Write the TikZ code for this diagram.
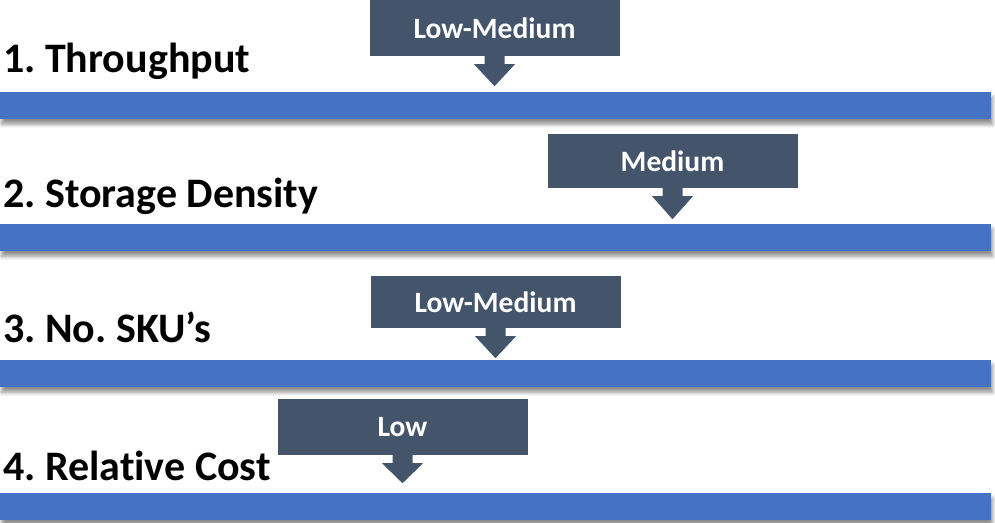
\documentclass[tikz,border=0pt]{standalone}
\usepackage{fontspec}
\setmainfont{Carlito}[Ligatures=NoCommon]
\usetikzlibrary{shadows.blur}
\definecolor{barblue}{HTML}{4472C4}
\definecolor{slate}{HTML}{44546A}
\frenchspacing
\newcommand\calloutarrow[2]{%
  \fill[slate] ([xshift=-10pt]#1.south) -- ([xshift=-10pt,yshift=-8pt]#1.south)
    -- ([xshift=-20.5pt,yshift=-8pt]#1.south) -- (#2)
    -- ([xshift=20.5pt,yshift=-8pt]#1.south) -- ([xshift=10pt,yshift=-8pt]#1.south)
    -- ([xshift=10pt]#1.south) -- cycle;}
\begin{document}
\begin{tikzpicture}[x=1pt,y=1pt,
  bar/.style={fill=barblue, inner sep=0, anchor=north west, minimum width=991pt, minimum height=27pt,
    blur shadow={shadow xshift=1.5pt, shadow yshift=-5pt, shadow blur radius=4pt, shadow opacity=45}},
  callout/.style={fill=slate, minimum width=250pt, inner sep=0, text=white,
    font=\bfseries\fontsize{29.5}{31}\selectfont},
  title/.style={anchor=base west, inner sep=0, font=\bfseries\fontsize{42}{46}\selectfont}]
\useasboundingbox (0,0) rectangle (995,-522);
% bars
\node[bar] (bar1) at (0,-92) {};
\node[bar] (bar2) at (0,-224) {};
\node[bar] (bar3) at (0,-360) {};
\node[bar] (bar4) at (0,-493) {};
% titles
\node[title] (t1) at (3,-72) {1. Throughput};
\node[title] (t2) at (3,-207) {2. Storage Density};
\node[title] (t3) at (3,-342) {3. No. SKU’s};
\node[title] (t4) at (3,-480) {4. Relative Cost};
% callouts
\node[callout, minimum height=56pt] (c1) at (494.5,-28) {Low-Medium};
\node[callout, minimum height=54pt] (c2) at (672.5,-161) {Medium};
\node[callout, minimum height=52pt] (c3) at (495.5,-302) {Low-Medium};
\node[callout, minimum height=56pt] (c4) at (402.5,-427) {Low};
\coordinate (p1) at ([yshift=-30pt]c1.south);
\coordinate (p2) at ([yshift=-31pt]c2.south);
\coordinate (p3) at ([yshift=-30pt]c3.south);
\coordinate (p4) at ([yshift=-28pt]c4.south);
\calloutarrow{c1}{p1}
\calloutarrow{c2}{p2}
\calloutarrow{c3}{p3}
\calloutarrow{c4}{p4}
\end{tikzpicture}
\end{document}
